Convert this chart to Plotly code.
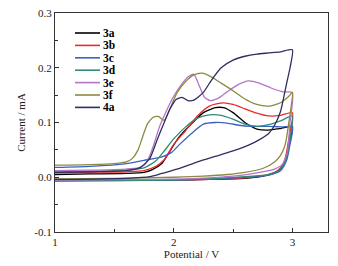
import plotly.graph_objects as go

series_names = ["3a", "3b", "3c", "3d", "3e", "3f", "4a"]
series_colors = ["#000000", "#f02828", "#3a62c4", "#2f8a78", "#b474c8", "#8c8a40", "#2e2e62"]

# ---- forward (anodic) sweeps ----
v_3a_fwd = [1.0, 1.3, 1.6, 1.75, 1.82, 1.9, 1.96, 2.04, 2.16, 2.25, 2.35, 2.42, 2.5, 2.6, 2.7, 2.8, 2.9, 3.0]
i_3a_fwd = [0.005, 0.006, 0.007, 0.009, 0.014, 0.025, 0.045, 0.072, 0.100, 0.118, 0.127, 0.127, 0.118, 0.100, 0.088, 0.086, 0.089, 0.093]

v_3b_fwd = [1.0, 1.3, 1.6, 1.75, 1.85, 1.92, 2.0, 2.1, 2.2, 2.3, 2.42, 2.5, 2.6, 2.7, 2.8, 2.9, 3.0]
i_3b_fwd = [0.008, 0.009, 0.010, 0.012, 0.020, 0.032, 0.060, 0.085, 0.112, 0.130, 0.136, 0.133, 0.125, 0.117, 0.112, 0.113, 0.118]

v_3c_fwd = [1.0, 1.3, 1.6, 1.75, 1.9, 1.98, 2.05, 2.15, 2.25, 2.35, 2.45, 2.55, 2.65, 2.8, 2.9, 3.0]
i_3c_fwd = [0.018, 0.020, 0.025, 0.031, 0.037, 0.045, 0.060, 0.080, 0.097, 0.100, 0.099, 0.095, 0.093, 0.093, 0.092, 0.091]

v_3d_fwd = [1.0, 1.3, 1.6, 1.75, 1.85, 1.92, 2.0, 2.1, 2.2, 2.3, 2.4, 2.5, 2.6, 2.7, 2.8, 2.9, 3.0]
i_3d_fwd = [0.010, 0.011, 0.013, 0.017, 0.030, 0.048, 0.070, 0.092, 0.108, 0.114, 0.113, 0.106, 0.097, 0.093, 0.096, 0.103, 0.112]

v_3e_fwd = [1.0, 1.3, 1.6, 1.7, 1.75, 1.79, 1.83, 1.88, 1.94, 2.0, 2.06, 2.12, 2.17, 2.21, 2.26, 2.31, 2.38, 2.45, 2.55, 2.63, 2.72, 2.82, 2.92, 3.0]
i_3e_fwd = [0.012, 0.013, 0.015, 0.017, 0.022, 0.035, 0.058, 0.092, 0.122, 0.148, 0.168, 0.183, 0.188, 0.170, 0.146, 0.140, 0.145, 0.156, 0.170, 0.176, 0.172, 0.163, 0.156, 0.155]

v_3f_fwd = [1.0, 1.3, 1.5, 1.6, 1.65, 1.7, 1.74, 1.78, 1.83, 1.87, 1.92, 1.97, 2.03, 2.1, 2.17, 2.24, 2.32, 2.4, 2.5, 2.6, 2.7, 2.8, 2.9, 2.97, 3.0]
i_3f_fwd = [0.022, 0.023, 0.025, 0.028, 0.034, 0.050, 0.075, 0.098, 0.110, 0.111, 0.104, 0.126, 0.155, 0.175, 0.187, 0.190, 0.183, 0.172, 0.158, 0.143, 0.133, 0.130, 0.136, 0.148, 0.155]

v_4a_fwd = [1.0, 1.3, 1.6, 1.72, 1.8, 1.86, 1.92, 1.97, 2.02, 2.07, 2.12, 2.17, 2.25, 2.32, 2.4, 2.5, 2.6, 2.7, 2.8, 2.9, 3.0]
i_4a_fwd = [0.009, 0.010, 0.012, 0.018, 0.035, 0.068, 0.100, 0.125, 0.142, 0.146, 0.140, 0.141, 0.155, 0.178, 0.200, 0.214, 0.221, 0.225, 0.227, 0.229, 0.233]

# ---- reverse (cathodic) sweeps ----
v_3a_rev = [3.0, 2.97, 2.94, 2.9, 2.85, 2.75, 2.6, 2.3, 2.0, 1.6, 1.0]
i_3a_rev = [0.093, 0.060, 0.030, 0.015, 0.008, 0.002, -0.002, -0.004, -0.005, -0.005, -0.005]

v_3b_rev = [3.0, 2.97, 2.94, 2.9, 2.85, 2.75, 2.6, 2.3, 2.0, 1.6, 1.0]
i_3b_rev = [0.118, 0.070, 0.035, 0.017, 0.009, 0.003, -0.001, -0.004, -0.005, -0.005, -0.006]

v_3c_rev = [3.0, 2.98, 2.95, 2.9, 2.8, 2.6, 2.3, 2.0, 1.5, 1.0]
i_3c_rev = [0.091, 0.060, 0.030, 0.012, 0.004, 0.000, -0.003, -0.005, -0.006, -0.007]

v_3d_rev = [3.0, 2.98, 2.95, 2.9, 2.8, 2.6, 2.3, 2.0, 1.5, 1.0]
i_3d_rev = [0.112, 0.070, 0.034, 0.014, 0.005, 0.001, -0.003, -0.005, -0.006, -0.006]

v_3e_rev = [3.0, 2.98, 2.96, 2.92, 2.85, 2.7, 2.5, 2.2, 1.8, 1.0]
i_3e_rev = [0.155, 0.100, 0.050, 0.025, 0.015, 0.008, 0.002, -0.002, -0.004, -0.005]

v_3f_rev = [3.0, 2.97, 2.94, 2.9, 2.85, 2.75, 2.6, 2.45, 2.25, 2.0, 1.5, 1.0]
i_3f_rev = [0.155, 0.100, 0.060, 0.040, 0.028, 0.016, 0.009, 0.005, 0.002, 0.000, -0.002, -0.003]

v_4a_rev = [3.0, 2.98, 2.95, 2.9, 2.85, 2.8, 2.7, 2.6, 2.5, 2.35, 2.2, 2.05, 1.9, 1.8, 1.6, 1.0]
i_4a_rev = [0.233, 0.200, 0.170, 0.120, 0.095, 0.080, 0.066, 0.056, 0.048, 0.038, 0.028, 0.016, 0.007, 0.001, -0.002, -0.004]

x_tick_vals = [1, 2, 3]
x_tick_text = ["1", "2", "3"]
y_tick_vals = [-0.1, 0.0, 0.1, 0.2, 0.3]
y_tick_text = ["-0.1", "0.0", "0.1", "0.2", "0.3"]

fwd_v = [v_3a_fwd, v_3b_fwd, v_3c_fwd, v_3d_fwd, v_3e_fwd, v_3f_fwd, v_4a_fwd]
fwd_i = [i_3a_fwd, i_3b_fwd, i_3c_fwd, i_3d_fwd, i_3e_fwd, i_3f_fwd, i_4a_fwd]
rev_v = [v_3a_rev, v_3b_rev, v_3c_rev, v_3d_rev, v_3e_rev, v_3f_rev, v_4a_rev]
rev_i = [i_3a_rev, i_3b_rev, i_3c_rev, i_3d_rev, i_3e_rev, i_3f_rev, i_4a_rev]

FONT = "Liberation Serif, Times New Roman, serif"

fig = go.Figure()
for name, col, vf, cf, vr, cr in zip(series_names, series_colors, fwd_v, fwd_i, rev_v, rev_i):
    fig.add_trace(go.Scatter(
        x=vf + vr[1:], y=cf + cr[1:], mode="lines", name=name,
        line=dict(color=col, width=1.3, shape="spline", smoothing=0.6),
        showlegend=False,
    ))

# page offset of 8 px (browser body margin) -> figure drawn at (8, 8)
OFF = 8
L_px, R_px, T_px, B_px = 55, 328, 13, 232
W_px, H_px = R_px - L_px, B_px - T_px

# manual compact legend (top-left inside the plot)
for k, (name, col) in enumerate(zip(series_names, series_colors)):
    py = 33 + k * 12.4
    yp = (B_px - py) / H_px
    fig.add_shape(type="line", xref="paper", yref="paper",
                  x0=(75 - L_px) / W_px, x1=(100 - L_px) / W_px, y0=yp, y1=yp,
                  line=dict(color=col, width=1.6))
    fig.add_annotation(xref="paper", yref="paper", x=(102 - L_px) / W_px, y=yp,
                       text="<b>%s</b>" % name, showarrow=False, xanchor="left", yanchor="middle",
                       font=dict(family=FONT, size=11.5, color="#000"), borderpad=0)

axis_common = dict(
    showline=True, linecolor="#333", linewidth=1.2, mirror=True,
    ticks="inside", ticklen=4, tickcolor="#333", tickwidth=1,
    showgrid=False, zeroline=False, ticklabeloverflow="allow",
    tickfont=dict(family=FONT, size=11, color="#222"),
)

fig.update_xaxes(range=[1, 3.3], tickvals=x_tick_vals, ticktext=x_tick_text,
                 minor=dict(ticks="inside", ticklen=2.5, tickcolor="#333", dtick=0.5, tick0=1),
                 title=dict(text="Potential / V", font=dict(family=FONT, size=11, color="#222"), standoff=2),
                 **axis_common)
fig.update_yaxes(range=[-0.1, 0.3], tickvals=y_tick_vals, ticktext=y_tick_text,
                 minor=dict(ticks="inside", ticklen=2.5, tickcolor="#333", dtick=0.05, tick0=0),
                 title=dict(text="Current / mA", font=dict(family=FONT, size=11, color="#222"), standoff=6),
                 **axis_common)

fig.update_layout(
    width=338 - OFF, height=266 - OFF,
    margin=dict(l=L_px - OFF, r=338 - R_px, t=T_px - OFF, b=266 - B_px, autoexpand=False),
    plot_bgcolor="white", paper_bgcolor="white",
    showlegend=False,
)

fig.write_html("out.html")
